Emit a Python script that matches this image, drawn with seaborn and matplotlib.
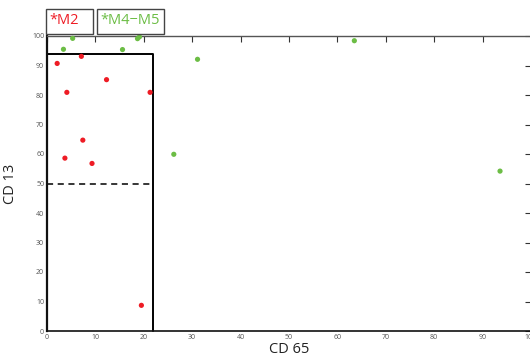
import matplotlib
matplotlib.use("Agg")
import matplotlib.pyplot as plt
import seaborn as sns
import pandas as pd
from matplotlib.patches import Rectangle

# Data
m2_cd65 = [2.1, 4.1, 7.1, 12.3, 21.3, 3.7, 7.4, 9.3, 19.5]
m2_cd13 = [90.7, 80.9, 93.1, 85.2, 80.9, 58.6, 64.7, 56.8, 8.7]
m45_cd65 = [5.3, 3.4, 15.6, 18.7, 19.1, 31.1, 26.2, 63.5, 93.6]
m45_cd13 = [99.2, 95.5, 95.4, 99.1, 99.7, 92.1, 59.9, 98.4, 54.2]
groups = ["M2", "M4\u2212M5"]
xticks = [0, 10, 20, 30, 40, 50, 60, 70, 80, 90, 100]
yticks = [0, 10, 20, 30, 40, 50, 60, 70, 80, 90, 100]
gate_x = 22.0
gate_y = 94.0
split_y = 50.0

df = pd.DataFrame({
    "CD 65": m2_cd65 + m45_cd65,
    "CD 13": m2_cd13 + m45_cd13,
    "group": [groups[0]] * len(m2_cd65) + [groups[1]] * len(m45_cd65),
})

sns.set_style("white")
plt.rcParams["font.family"] = ["Open Sans", "DejaVu Sans"]

red = "#ee1c25"
green = "#6cbd45"

fig = plt.figure(figsize=(5.3, 3.63), dpi=100)
ax = fig.add_axes([47 / 530, 32 / 363, 484 / 530, 295 / 363])

sns.scatterplot(data=df, x="CD 65", y="CD 13", hue="group",
                palette={groups[0]: red, groups[1]: green},
                s=14, linewidth=0, legend=False, ax=ax, clip_on=False, zorder=3)

ax.set_xlim(0, 100)
ax.set_ylim(0, 100)
ax.set_xticks(xticks)
ax.set_yticks(yticks)
ax.tick_params(axis="both", which="both", direction="in", length=4, width=0.8,
               labelsize=5, labelcolor="#555555", color="#333333",
               top=True, right=True, pad=2)

for s in ["left"]:
    ax.spines[s].set_linewidth(1.6)
    ax.spines[s].set_color("#111111")
ax.spines["bottom"].set_linewidth(1.2)
ax.spines["bottom"].set_color("#111111")
ax.spines["top"].set_linewidth(1.0)
ax.spines["top"].set_color("#555555")
ax.spines["right"].set_linewidth(1.0)
ax.spines["right"].set_color("#555555")

# Gate rectangle and split line
ax.plot([0, gate_x, gate_x], [gate_y, gate_y, 0], color="black", lw=1.4,
        clip_on=False, zorder=2)
ax.plot([0, gate_x], [split_y, split_y], color="black", lw=1.1,
        linestyle=(0, (4, 3)), zorder=2)

ax.set_xlabel("CD 65", fontsize=10.5, color="#222222", labelpad=1)
ax.set_ylabel("CD 13", fontsize=10.5, color="#222222", labelpad=10)

# Legend boxes
def fbox(x0, y0, x1, y1):
    r = Rectangle((x0 / 530, 1 - y1 / 363), (x1 - x0) / 530, (y1 - y0) / 363,
                  transform=fig.transFigure, fill=False, edgecolor="#444444",
                  lw=1.0)
    fig.add_artist(r)

fbox(46, 9, 93, 34)
fbox(97, 9, 164, 34)
fig.text(49 / 530, 1 - 21 / 363, "*" + groups[0], color=red, fontsize=10.5,
         va="center", ha="left")
fig.text(100 / 530, 1 - 21 / 363, "*" + groups[1], color=green, fontsize=10.5,
         va="center", ha="left")

fig.savefig("out.png", dpi=100)
